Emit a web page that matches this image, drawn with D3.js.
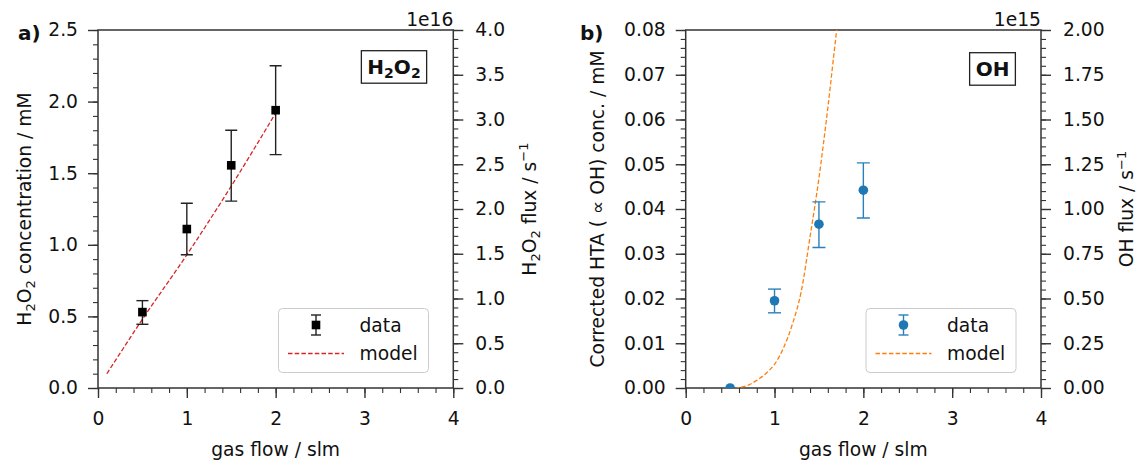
<!DOCTYPE html>
<html lang="en">
<head>
<meta charset="UTF-8" />
<title>H2O2 and OH vs gas flow</title>
<script src="https://d3js.org/d3.v7.min.js"></script>
<style>
  html, body { margin: 0; padding: 0; background: #fff; }
  svg { display: block; font-family: "DejaVu Sans", sans-serif; }
  .tick text { font-size: 18.7px; fill: #111; font-family: "DejaVu Sans", sans-serif; }
  .tick line { stroke: #333; }
</style>
</head>
<body>
<svg id="chart" width="1136" height="460"></svg>
<script>
  // ---- data ----
  const xMajor = [0, 1, 2, 3, 4];

  // panel a) H2O2
  const flowH2O2 = [0.5, 1.0, 1.5, 2.0];
  const concH2O2 = [0.53, 1.11, 1.555, 1.94];
  const loH2O2 = [0.445, 0.93, 1.305, 1.63];
  const hiH2O2 = [0.61, 1.29, 1.80, 2.25];
  const modelFlowH2O2 = [0.1, 0.5, 1.0, 1.5, 2.0];
  const modelConcH2O2 = [0.1, 0.48, 0.93, 1.41, 1.92];
  const yTicksH2O2 = [0, 0.5, 1.0, 1.5, 2.0, 2.5];
  const fluxTicksH2O2 = [0, 0.5, 1.0, 1.5, 2.0, 2.5, 3.0, 3.5, 4.0];

  // panel b) OH
  const flowOH = [0.5, 1.0, 1.5, 2.0];
  const concOH = [0.0, 0.0195, 0.0366, 0.0442];
  const loOH = [0.0, 0.0168, 0.0314, 0.038];
  const hiOH = [0.0, 0.0221, 0.0416, 0.0503];
  const modelFlowOH = [0.55, 0.6, 0.7, 0.8, 0.9, 1.0, 1.1, 1.2, 1.3, 1.4, 1.5, 1.6, 1.7, 1.75];
  const modelConcOH = [0, 0.0001, 0.0006, 0.0017, 0.0032, 0.0053, 0.0089, 0.0142, 0.0215, 0.0338, 0.0469, 0.0626, 0.080, 0.088];
  const yTicksOH = [0, 0.01, 0.02, 0.03, 0.04, 0.05, 0.06, 0.07, 0.08];
  const fluxTicksOH = [0, 0.25, 0.5, 0.75, 1.0, 1.25, 1.5, 1.75, 2.0];

  const svg = d3.select("#chart");
  const FS = 18.7;
  const plotTop = 30, plotBottom = 388, plotW = 355.3;

  function range(a, b, step) {
    const out = [];
    for (let v = a; v <= b + step / 1000; v += step) out.push(+v.toFixed(6));
    return out;
  }

  // text with sub/superscripts: parts = [[str, "n"|"sub"|"sup"], ...]
  function richText(sel, parts, size, weight) {
    const t = sel.append("text").attr("font-size", size).attr("fill", "#111");
    if (weight) t.attr("font-weight", weight);
    let shift = 0;
    parts.forEach(([s, kind]) => {
      const target = kind === "sub" ? size * 0.22 : kind === "sup" ? -size * 0.38 : 0;
      t.append("tspan")
        .attr("dy", target - shift)
        .attr("font-size", kind === "n" ? size : size * 0.7)
        .text(s);
      shift = target;
    });
    return t;
  }

  function styleAxis(g) {
    g.select(".domain").remove();
    g.selectAll(".tick line").attr("stroke", "#333").attr("stroke-width", 1.4);
  }

  function panel(o) {
    const x = d3.scaleLinear().domain([0, 4]).range([o.x0, o.x0 + plotW]);
    const y = d3.scaleLinear().domain([0, o.yMax]).range([plotBottom, plotTop]);
    const y2 = d3.scaleLinear().domain([0, o.y2Max]).range([plotBottom, plotTop]);

    // minor ticks
    svg.append("g").attr("transform", `translate(0,${plotBottom})`)
      .call(d3.axisBottom(x).tickValues(range(0, 4, 0.2)).tickSize(5).tickFormat(""))
      .call(styleAxis).selectAll(".tick line").attr("stroke-width", 1.1);
    svg.append("g").attr("transform", `translate(${o.x0},0)`)
      .call(d3.axisLeft(y).tickValues(range(0, o.yMax, o.yMinor)).tickSize(5).tickFormat(""))
      .call(styleAxis).selectAll(".tick line").attr("stroke-width", 1.1);
    svg.append("g").attr("transform", `translate(${o.x0 + plotW},0)`)
      .call(d3.axisRight(y2).tickValues(range(0, o.y2Max, o.y2Minor)).tickSize(5).tickFormat(""))
      .call(styleAxis).selectAll(".tick line").attr("stroke-width", 1.1);

    // major ticks
    svg.append("g").attr("transform", `translate(0,${plotBottom})`)
      .call(d3.axisBottom(x).tickValues(xMajor).tickSize(10).tickPadding(13.5).tickFormat(d3.format("d")))
      .call(styleAxis);
    svg.append("g").attr("transform", `translate(${o.x0},0)`)
      .call(d3.axisLeft(y).tickValues(o.yTicks).tickSize(10).tickPadding(10).tickFormat(d3.format(o.fmt)))
      .call(styleAxis);
    svg.append("g").attr("transform", `translate(${o.x0 + plotW},0)`)
      .call(d3.axisRight(y2).tickValues(o.y2Ticks).tickSize(10).tickPadding(12).tickFormat(d3.format(o.fmt2)))
      .call(styleAxis);

    // frame
    svg.append("rect")
      .attr("x", o.x0).attr("y", plotTop).attr("width", plotW).attr("height", plotBottom - plotTop)
      .attr("fill", "none").attr("stroke", "#333").attr("stroke-width", 1.5);

    // clip
    const clipId = "clip" + o.id;
    svg.append("clipPath").attr("id", clipId).append("rect")
      .attr("x", o.x0).attr("y", plotTop).attr("width", plotW).attr("height", plotBottom - plotTop);
    const plot = svg.append("g").attr("clip-path", `url(#${clipId})`);

    // model
    const model = o.modelX.map((v, i) => [v, o.modelY[i]]);
    plot.append("path")
      .datum(model)
      .attr("d", d3.line().x(d => x(d[0])).y(d => y(d[1])).curve(d3.curveMonotoneX))
      .attr("fill", "none").attr("stroke", o.modelColor).attr("stroke-width", 1.3)
      .attr("stroke-dasharray", "4.5,2.2");

    // error bars
    const pts = o.dataX.map((v, i) => ({ x: v, y: o.dataY[i], lo: o.lo[i], hi: o.hi[i] }));
    const eb = plot.append("g").attr("stroke", o.errColor).attr("stroke-width", 1.4);
    pts.forEach(p => {
      eb.append("line").attr("x1", x(p.x)).attr("x2", x(p.x)).attr("y1", y(p.lo)).attr("y2", y(p.hi));
      [p.lo, p.hi].forEach(v => eb.append("line")
        .attr("x1", x(p.x) - o.cap).attr("x2", x(p.x) + o.cap).attr("y1", y(v)).attr("y2", y(v)));
    });

    // markers
    pts.forEach(p => drawMarker(plot, o.marker, x(p.x), y(p.y), o.dataColor));

    // label box
    const lb = svg.append("g");
    const lt = richText(lb, o.boxLabel, o.boxSize, "bold")
      .attr("x", o.boxCx).attr("y", o.boxCy + 7).attr("text-anchor", "middle");
    const bb = lt.node().getBBox();
    lb.insert("rect", "text")
      .attr("x", bb.x - 6).attr("y", o.boxCy - 16).attr("width", bb.width + 12).attr("height", 32.5)
      .attr("fill", "#fff").attr("stroke", "#222").attr("stroke-width", 1.3);

    // legend
    const lg = svg.append("g").attr("transform", `translate(${o.legX},308.5)`);
    lg.append("rect").attr("width", 150).attr("height", 64).attr("rx", 4)
      .attr("fill", "#fff").attr("fill-opacity", 0.8).attr("stroke", "#ccc").attr("stroke-width", 1);
    const mx = 37.5;
    lg.append("line").attr("x1", mx).attr("x2", mx).attr("y1", 6.5).attr("y2", 26.5)
      .attr("stroke", o.errColor).attr("stroke-width", 1.4);
    [6.5, 26.5].forEach(v => lg.append("line").attr("x1", mx - 5).attr("x2", mx + 5)
      .attr("y1", v).attr("y2", v).attr("stroke", o.errColor).attr("stroke-width", 1.4));
    drawMarker(lg, o.marker, mx, 16.5, o.dataColor);
    lg.append("line").attr("x1", mx - 28).attr("x2", mx + 28).attr("y1", 45).attr("y2", 45)
      .attr("stroke", o.modelColor).attr("stroke-width", 1.3).attr("stroke-dasharray", "4.5,2.2");
    lg.append("text").attr("x", 81).attr("y", 23).attr("font-size", FS).attr("fill", "#111").text("data");
    lg.append("text").attr("x", 81).attr("y", 51).attr("font-size", FS).attr("fill", "#111").text("model");

    // axis labels
    svg.append("text").attr("x", o.x0 + plotW / 2).attr("y", 456).attr("text-anchor", "middle")
      .attr("font-size", FS).attr("fill", "#111").text("gas flow / slm");
    const yl = svg.append("g").attr("transform", `translate(${o.ylX},209) rotate(-90)`);
    richText(yl, o.yLabel, FS).attr("text-anchor", "middle");
    const yr = svg.append("g").attr("transform", `translate(${o.y2lX},209) rotate(-90)`);
    richText(yr, o.y2Label, FS).attr("text-anchor", "middle");

    // offset text and panel letter
    svg.append("text").attr("x", o.x0 + plotW).attr("y", 26).attr("text-anchor", "end")
      .attr("font-size", FS).attr("fill", "#111").text(o.offset);
    svg.append("text").attr("x", o.letterX).attr("y", 40).attr("font-size", 20).attr("font-weight", "bold")
      .attr("fill", "#111").text(o.letter);
  }

  function drawMarker(g, kind, cx, cy, color) {
    if (kind === "square") {
      g.append("rect").attr("x", cx - 4.3).attr("y", cy - 4.3).attr("width", 8.6).attr("height", 8.6)
        .attr("fill", color);
    } else {
      g.append("circle").attr("cx", cx).attr("cy", cy).attr("r", 4.8).attr("fill", color);
    }
  }

  panel({
    id: "a", x0: 98, yMax: 2.5, yMinor: 0.1, y2Max: 4.0, y2Minor: 0.1,
    yTicks: yTicksH2O2, y2Ticks: fluxTicksH2O2, fmt: ".1f", fmt2: ".1f",
    dataX: flowH2O2, dataY: concH2O2, lo: loH2O2, hi: hiH2O2,
    modelX: modelFlowH2O2, modelY: modelConcH2O2,
    marker: "square", dataColor: "#000", errColor: "#222", modelColor: "#d62728", cap: 6,
    boxLabel: [["H", "n"], ["2", "sub"], ["O", "n"], ["2", "sub"]], boxSize: 20, boxCx: 394, boxCy: 66.7,
    legX: 278.5,
    yLabel: [["H", "n"], ["2", "sub"], ["O", "n"], ["2", "sub"], [" concentration / mM", "n"]], ylX: 31,
    y2Label: [["H", "n"], ["2", "sub"], ["O", "n"], ["2", "sub"], [" flux / s", "n"], ["\u22121", "sup"]], y2lX: 535.5,
    offset: "1e16", letter: "a)", letterX: 18
  });

  panel({
    id: "b", x0: 685.7, yMax: 0.08, yMinor: 0.002, y2Max: 2.0, y2Minor: 0.05,
    yTicks: yTicksOH, y2Ticks: fluxTicksOH, fmt: ".2f", fmt2: ".2f",
    dataX: flowOH, dataY: concOH, lo: loOH, hi: hiOH,
    modelX: modelFlowOH, modelY: modelConcOH,
    marker: "circle", dataColor: "#1f77b4", errColor: "#2a80bb", modelColor: "#ff7f0e", cap: 6.5,
    boxLabel: [["OH", "n"]], boxSize: 20, boxCx: 992.5, boxCy: 68.7,
    legX: 866,
    yLabel: [["Corrected HTA ( \u221d OH) conc. / mM", "n"]], ylX: 603.5,
    y2Label: [["OH flux / s", "n"], ["\u22121", "sup"]], y2lX: 1133,
    offset: "1e15", letter: "b)", letterX: 580
  });
</script>
</body>
</html>
